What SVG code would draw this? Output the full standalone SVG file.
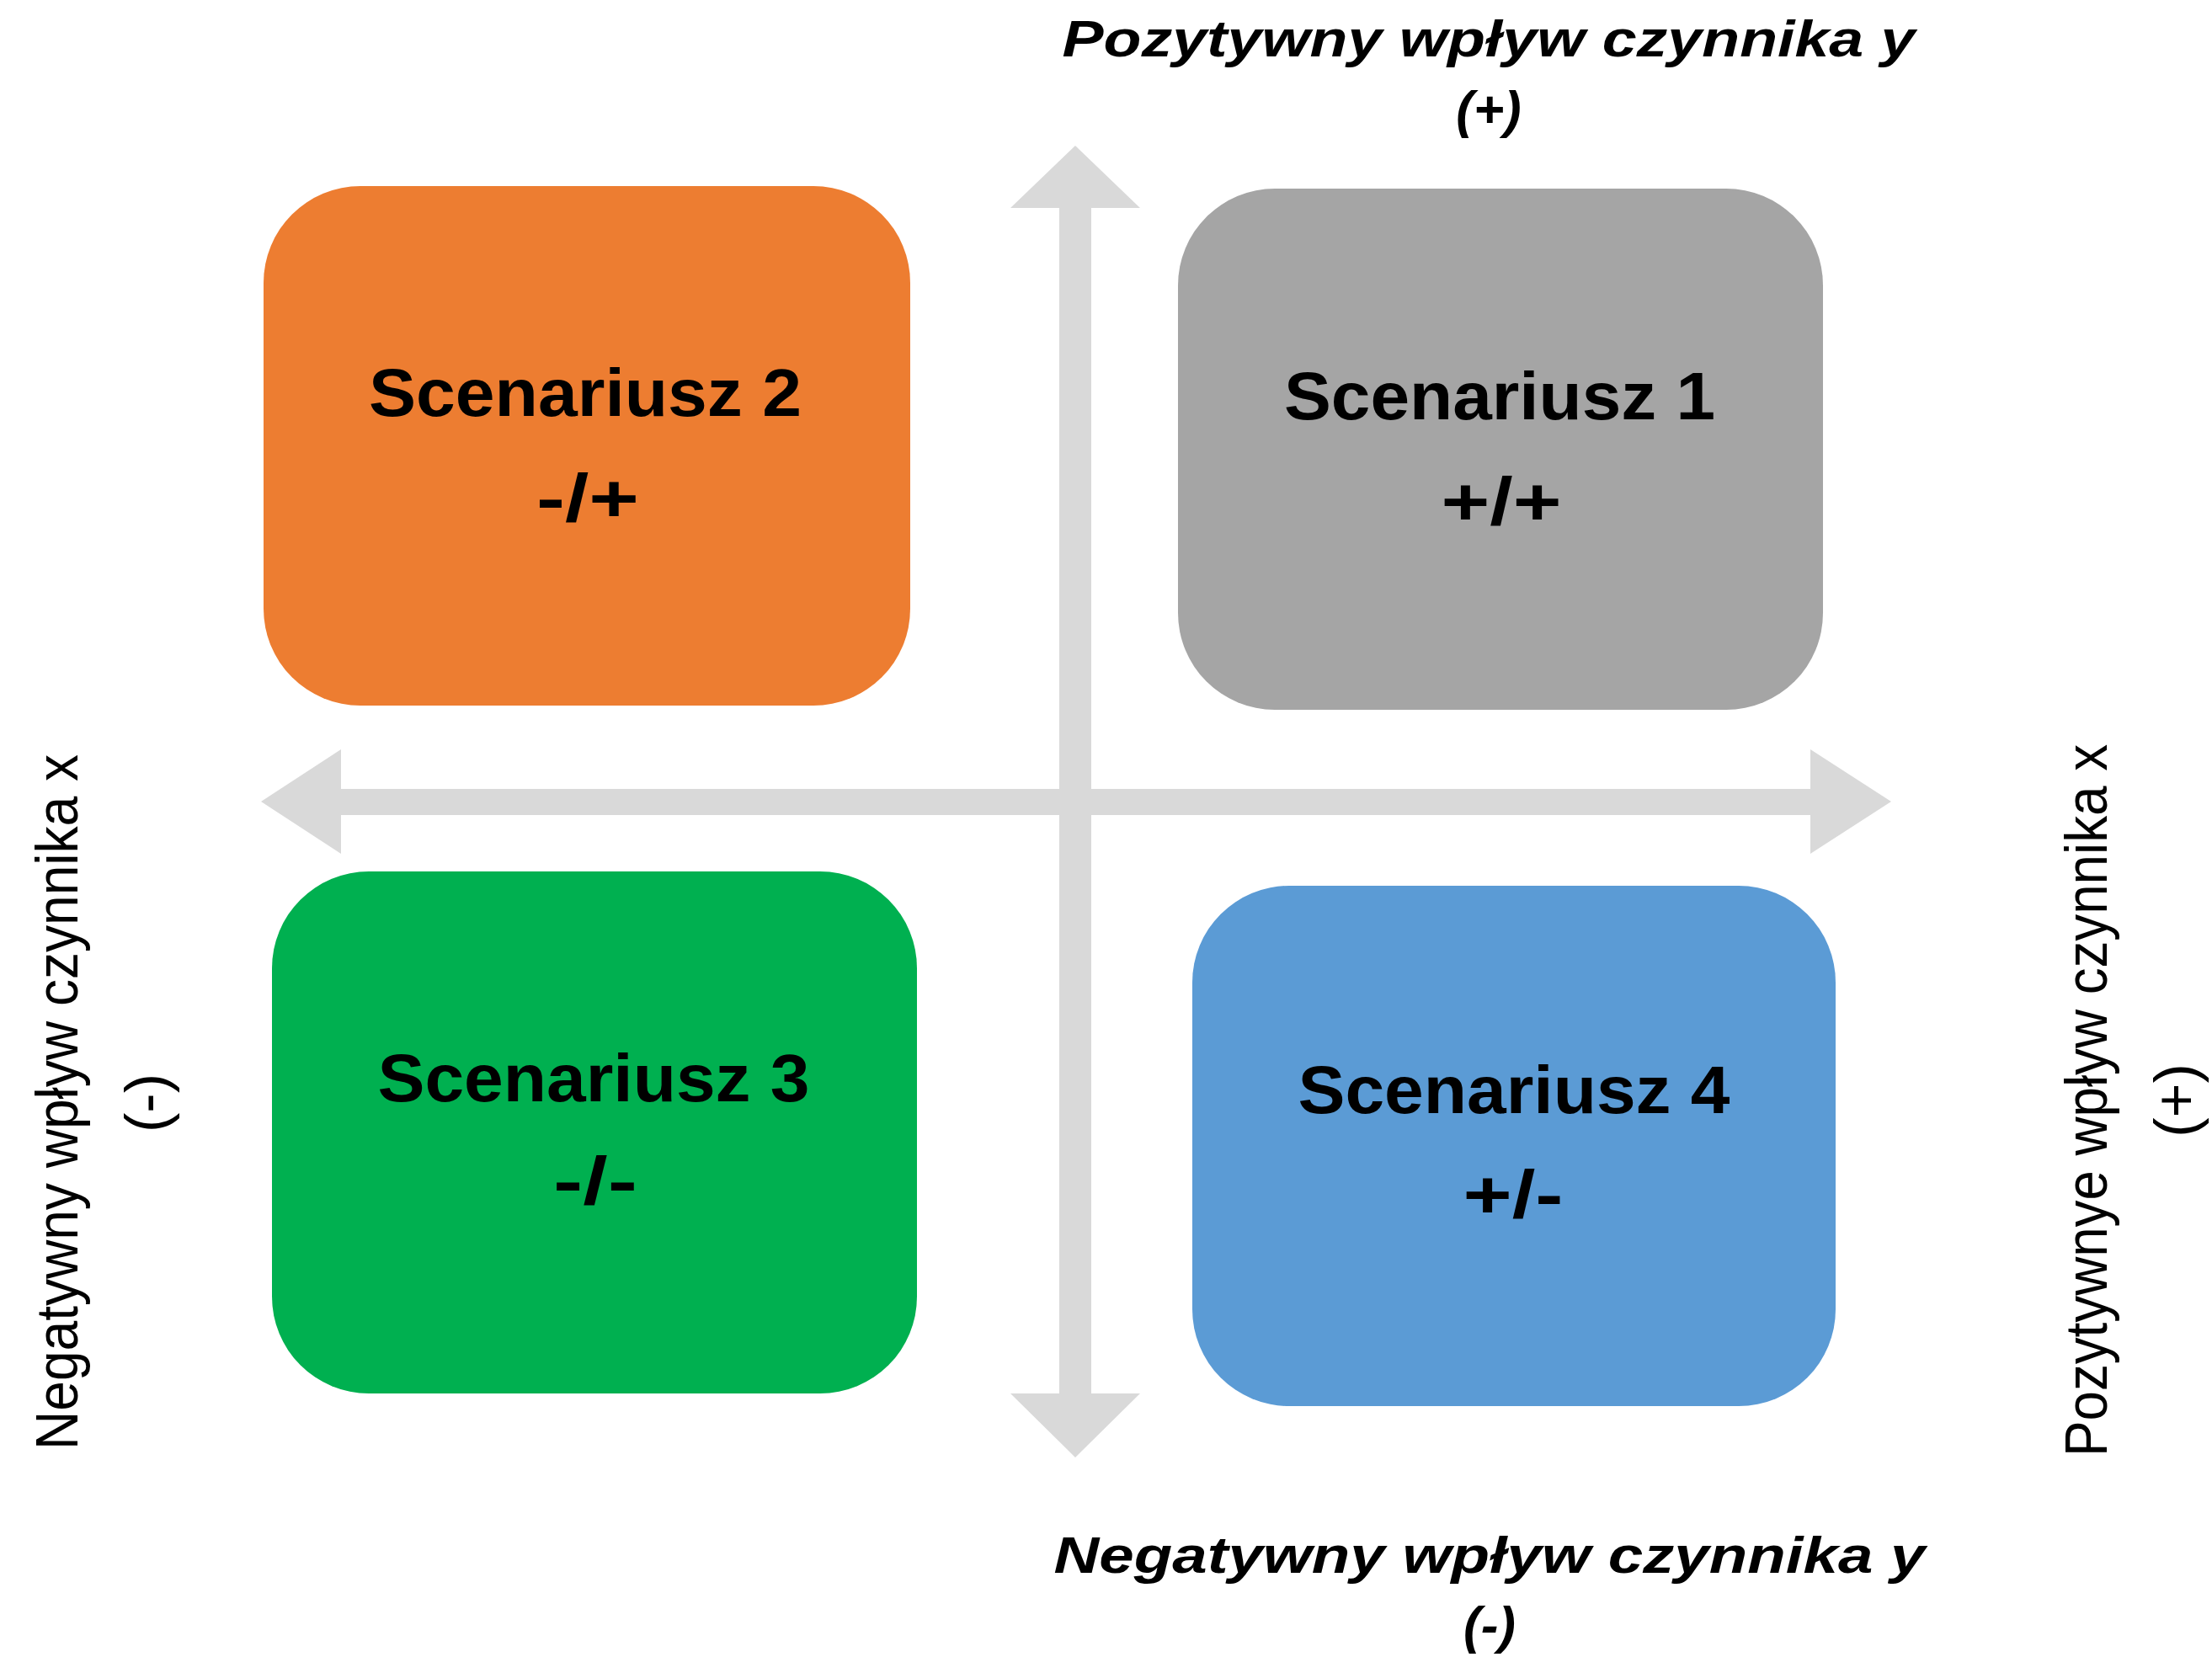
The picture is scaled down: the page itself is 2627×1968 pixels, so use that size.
<svg xmlns="http://www.w3.org/2000/svg" width="2627" height="1968" viewBox="0 0 2627 1968">
<style>
.box{stroke:none}
.t{font-family:"Liberation Sans",Arial,sans-serif;font-weight:bold;font-size:80px;fill:#000;text-anchor:middle}
.ax{font-family:"Liberation Sans",Arial,sans-serif;font-weight:bold;font-style:italic;font-size:62px;fill:#000;text-anchor:middle}
.ax2{font-family:"Liberation Sans",Arial,sans-serif;font-size:70px;fill:#000;text-anchor:middle}
.arr{fill:#D9D9D9}
</style>
<rect width="2627" height="1968" fill="#FFFFFF"/>
<g id="connectors">
<polygon class="arr" points="310,952 405,890 405,937 2150,937 2150,890 2246,952 2150,1014 2150,968 405,968 405,1014"/>
<polygon class="arr" points="1277,173 1354,247 1296,247 1296,1655 1354,1655 1277,1731 1200,1655 1258,1655 1258,247 1200,247"/>
</g>
<g id="scenario2">
<rect class="box" x="313" y="221" width="768" height="617" rx="115" fill="#ED7D31"/>
<text class="t" x="695" y="494" textLength="514" lengthAdjust="spacingAndGlyphs">Scenariusz 2</text>
<text class="t" x="698" y="619" font-size="84" textLength="122" lengthAdjust="spacingAndGlyphs">-/+</text>
</g>
<g id="scenario1">
<rect class="box" x="1399" y="224" width="766" height="619" rx="115" fill="#A5A5A5"/>
<text class="t" x="1781" y="498" textLength="512" lengthAdjust="spacingAndGlyphs">Scenariusz 1</text>
<text class="t" x="1783" y="623" font-size="84" textLength="143" lengthAdjust="spacingAndGlyphs">+/+</text>
</g>
<g id="scenario3">
<rect class="box" x="323" y="1035" width="766" height="620" rx="115" fill="#00B050"/>
<text class="t" x="705" y="1308" textLength="513" lengthAdjust="spacingAndGlyphs">Scenariusz 3</text>
<text class="t" x="707" y="1430" font-size="84" textLength="100" lengthAdjust="spacingAndGlyphs">-/-</text>
</g>
<g id="scenario4">
<rect class="box" x="1416" y="1052" width="764" height="618" rx="115" fill="#5B9BD5"/>
<text class="t" x="1798" y="1322" textLength="513" lengthAdjust="spacingAndGlyphs">Scenariusz 4</text>
<text class="t" x="1797" y="1446" font-size="84" textLength="119" lengthAdjust="spacingAndGlyphs">+/-</text>
</g>
<g id="label-top">
<text class="ax" x="1768" y="67" textLength="1013" lengthAdjust="spacingAndGlyphs">Pozytywny wpływ czynnika y</text>
<text class="ax" x="1768" y="151">(+)</text>
</g>
<g id="label-bottom">
<text class="ax" x="1769" y="1868" textLength="1035" lengthAdjust="spacingAndGlyphs">Negatywny wpływ czynnika y</text>
<text class="ax" x="1769" y="1951">(-)</text>
</g>
<g id="label-left">
<text class="ax2" transform="translate(92,1309) rotate(-90)" textLength="826" lengthAdjust="spacingAndGlyphs">Negatywny wpływ czynnika x</text>
<text class="ax2" transform="translate(198,1310) rotate(-90)">(-)</text>
</g>
<g id="label-right">
<text class="ax2" transform="translate(2502,1307) rotate(-90)" textLength="846" lengthAdjust="spacingAndGlyphs">Pozytywnye wpływ czynnika x</text>
<text class="ax2" transform="translate(2608,1307) rotate(-90)">(+)</text>
</g>
</svg>
